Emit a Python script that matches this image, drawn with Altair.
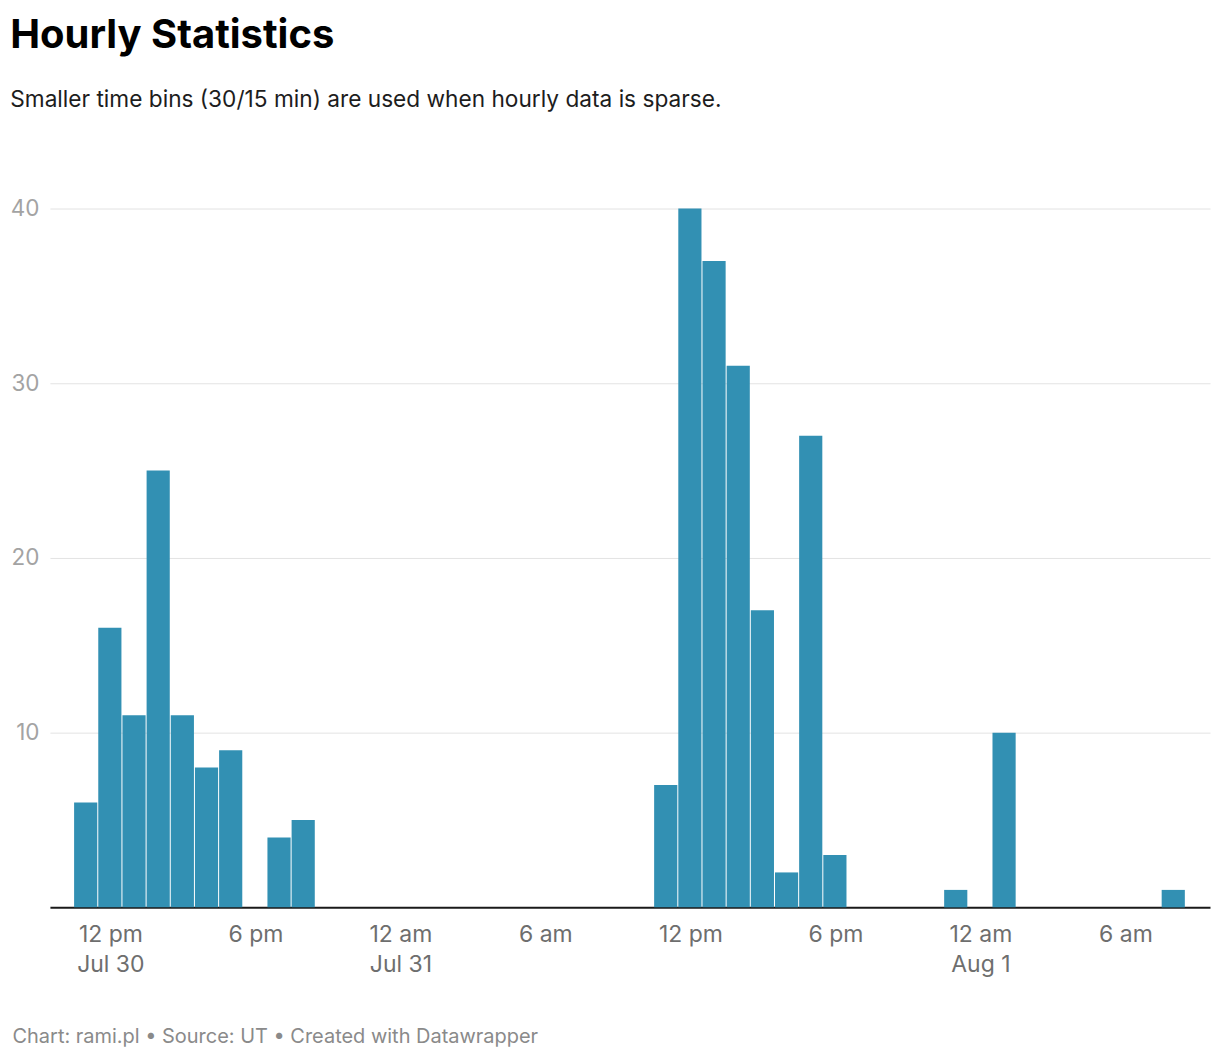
import altair as alt
import pandas as pd

# Hourly bins (UTC, hour centres) and counts
bin_times = [
    "2024-07-30T11:00", "2024-07-30T12:00", "2024-07-30T13:00", "2024-07-30T14:00",
    "2024-07-30T15:00", "2024-07-30T16:00", "2024-07-30T17:00", "2024-07-30T19:00",
    "2024-07-30T20:00",
    "2024-07-31T11:00", "2024-07-31T12:00", "2024-07-31T13:00", "2024-07-31T14:00",
    "2024-07-31T15:00", "2024-07-31T16:00", "2024-07-31T17:00", "2024-07-31T18:00",
    "2024-07-31T23:00",
    "2024-08-01T01:00", "2024-08-01T08:00",
]
counts = [6, 16, 11, 25, 11, 8, 9, 4, 5,
          7, 40, 37, 31, 17, 2, 27, 3, 1,
          10, 1]

tick_times = ["2024-07-30T12:00", "2024-07-30T18:00", "2024-07-31T00:00", "2024-07-31T06:00",
              "2024-07-31T12:00", "2024-07-31T18:00", "2024-08-01T00:00", "2024-08-01T06:00"]
tick_line1 = ["12 pm", "6 pm", "12 am", "6 am", "12 pm", "6 pm", "12 am", "6 am"]
tick_line2 = ["Jul 30", "", "Jul 31", "", "", "", "Aug 1", ""]

y_ticks = [10, 20, 30, 40]
x_domain = ["2024-07-30T09:30", "2024-08-01T09:30"]

FONT = "Inter"

fmt = "%Y-%m-%dT%H:%M:%SZ"
t = pd.to_datetime(bin_times)
df = pd.DataFrame({
    "start": (t - pd.Timedelta(minutes=30)).strftime(fmt),
    "end": (t + pd.Timedelta(minutes=30)).strftime(fmt),
    "count": counts,
})


def dt(s):
    ts = pd.Timestamp(s)
    return alt.DateTime(year=ts.year, month=ts.month, date=ts.day,
                        hours=ts.hour, minutes=ts.minute, utc=True)


def ms(s):
    return int(pd.Timestamp(s, tz="UTC").value // 1_000_000)


expr = "''"
for tt, l1, l2 in reversed(list(zip(tick_times, tick_line1, tick_line2))):
    lab = f"['{l1}', '{l2}']" if l2 else f"'{l1}'"
    expr = f"time(datum.value) == {ms(tt)} ? {lab} : ({expr})"

footer = "Chart: rami.pl \u2022 Source: UT \u2022 Created with Datawrapper"

chart = alt.Chart(df).mark_bar(color="#3290b3", x2Offset=-1).encode(
    x=alt.X(
        "start:T",
        scale=alt.Scale(type="utc", domain=[dt(x_domain[0]), dt(x_domain[1])], nice=False),
        axis=alt.Axis(
            values=[dt(v) for v in tick_times],
            labelExpr=expr,
            grid=False, ticks=False, tickSize=0,
            domain=True, domainColor="#1a1a1a", domainWidth=2,
            labelFont=FONT, labelFontSize=23, labelColor="#6e6e6e",
            labelPadding=16, labelLineHeight=30, labelAlign="center", labelBaseline="top",
            labelOverlap=False, labelFlush=False,
            title=footer, titleFont=FONT, titleFontSize=20, titleFontWeight="normal",
            titleColor="#8a8a8a", titleAlign="left", titleBaseline="middle",
            titleX=-38, titleY=129,
        ),
    ),
    x2="end:T",
    y=alt.Y(
        "count:Q",
        scale=alt.Scale(domain=[0, 40], nice=False),
        axis=alt.Axis(
            values=y_ticks, grid=True, gridColor="#e3e3e3", gridWidth=1,
            domain=False, ticks=False, tickSize=0,
            labelFont=FONT, labelFontSize=22.5, labelColor="#a3a3a3",
            labelPadding=11, minExtent=38, maxExtent=38, title=None,
        ),
    ),
    y2=alt.datum(0),
).properties(
    width=1162,
    height=700,
    padding={"left": 2, "top": 7, "right": 2, "bottom": 5},
    title=alt.TitleParams(
        text="Hourly Statistics",
        subtitle="Smaller time bins (30/15 min) are used when hourly data is sparse.",
        anchor="start", frame="bounds",
        font=FONT, fontSize=40, fontWeight="bold", color="#000000",
        subtitleFont=FONT, subtitleFontSize=22.7, subtitleColor="#1d1d1d",
        subtitlePadding=33, offset=86,
    ),
).configure_view(stroke=None)

chart.save("out.html", embed_options={"renderer": "svg", "actions": False})
